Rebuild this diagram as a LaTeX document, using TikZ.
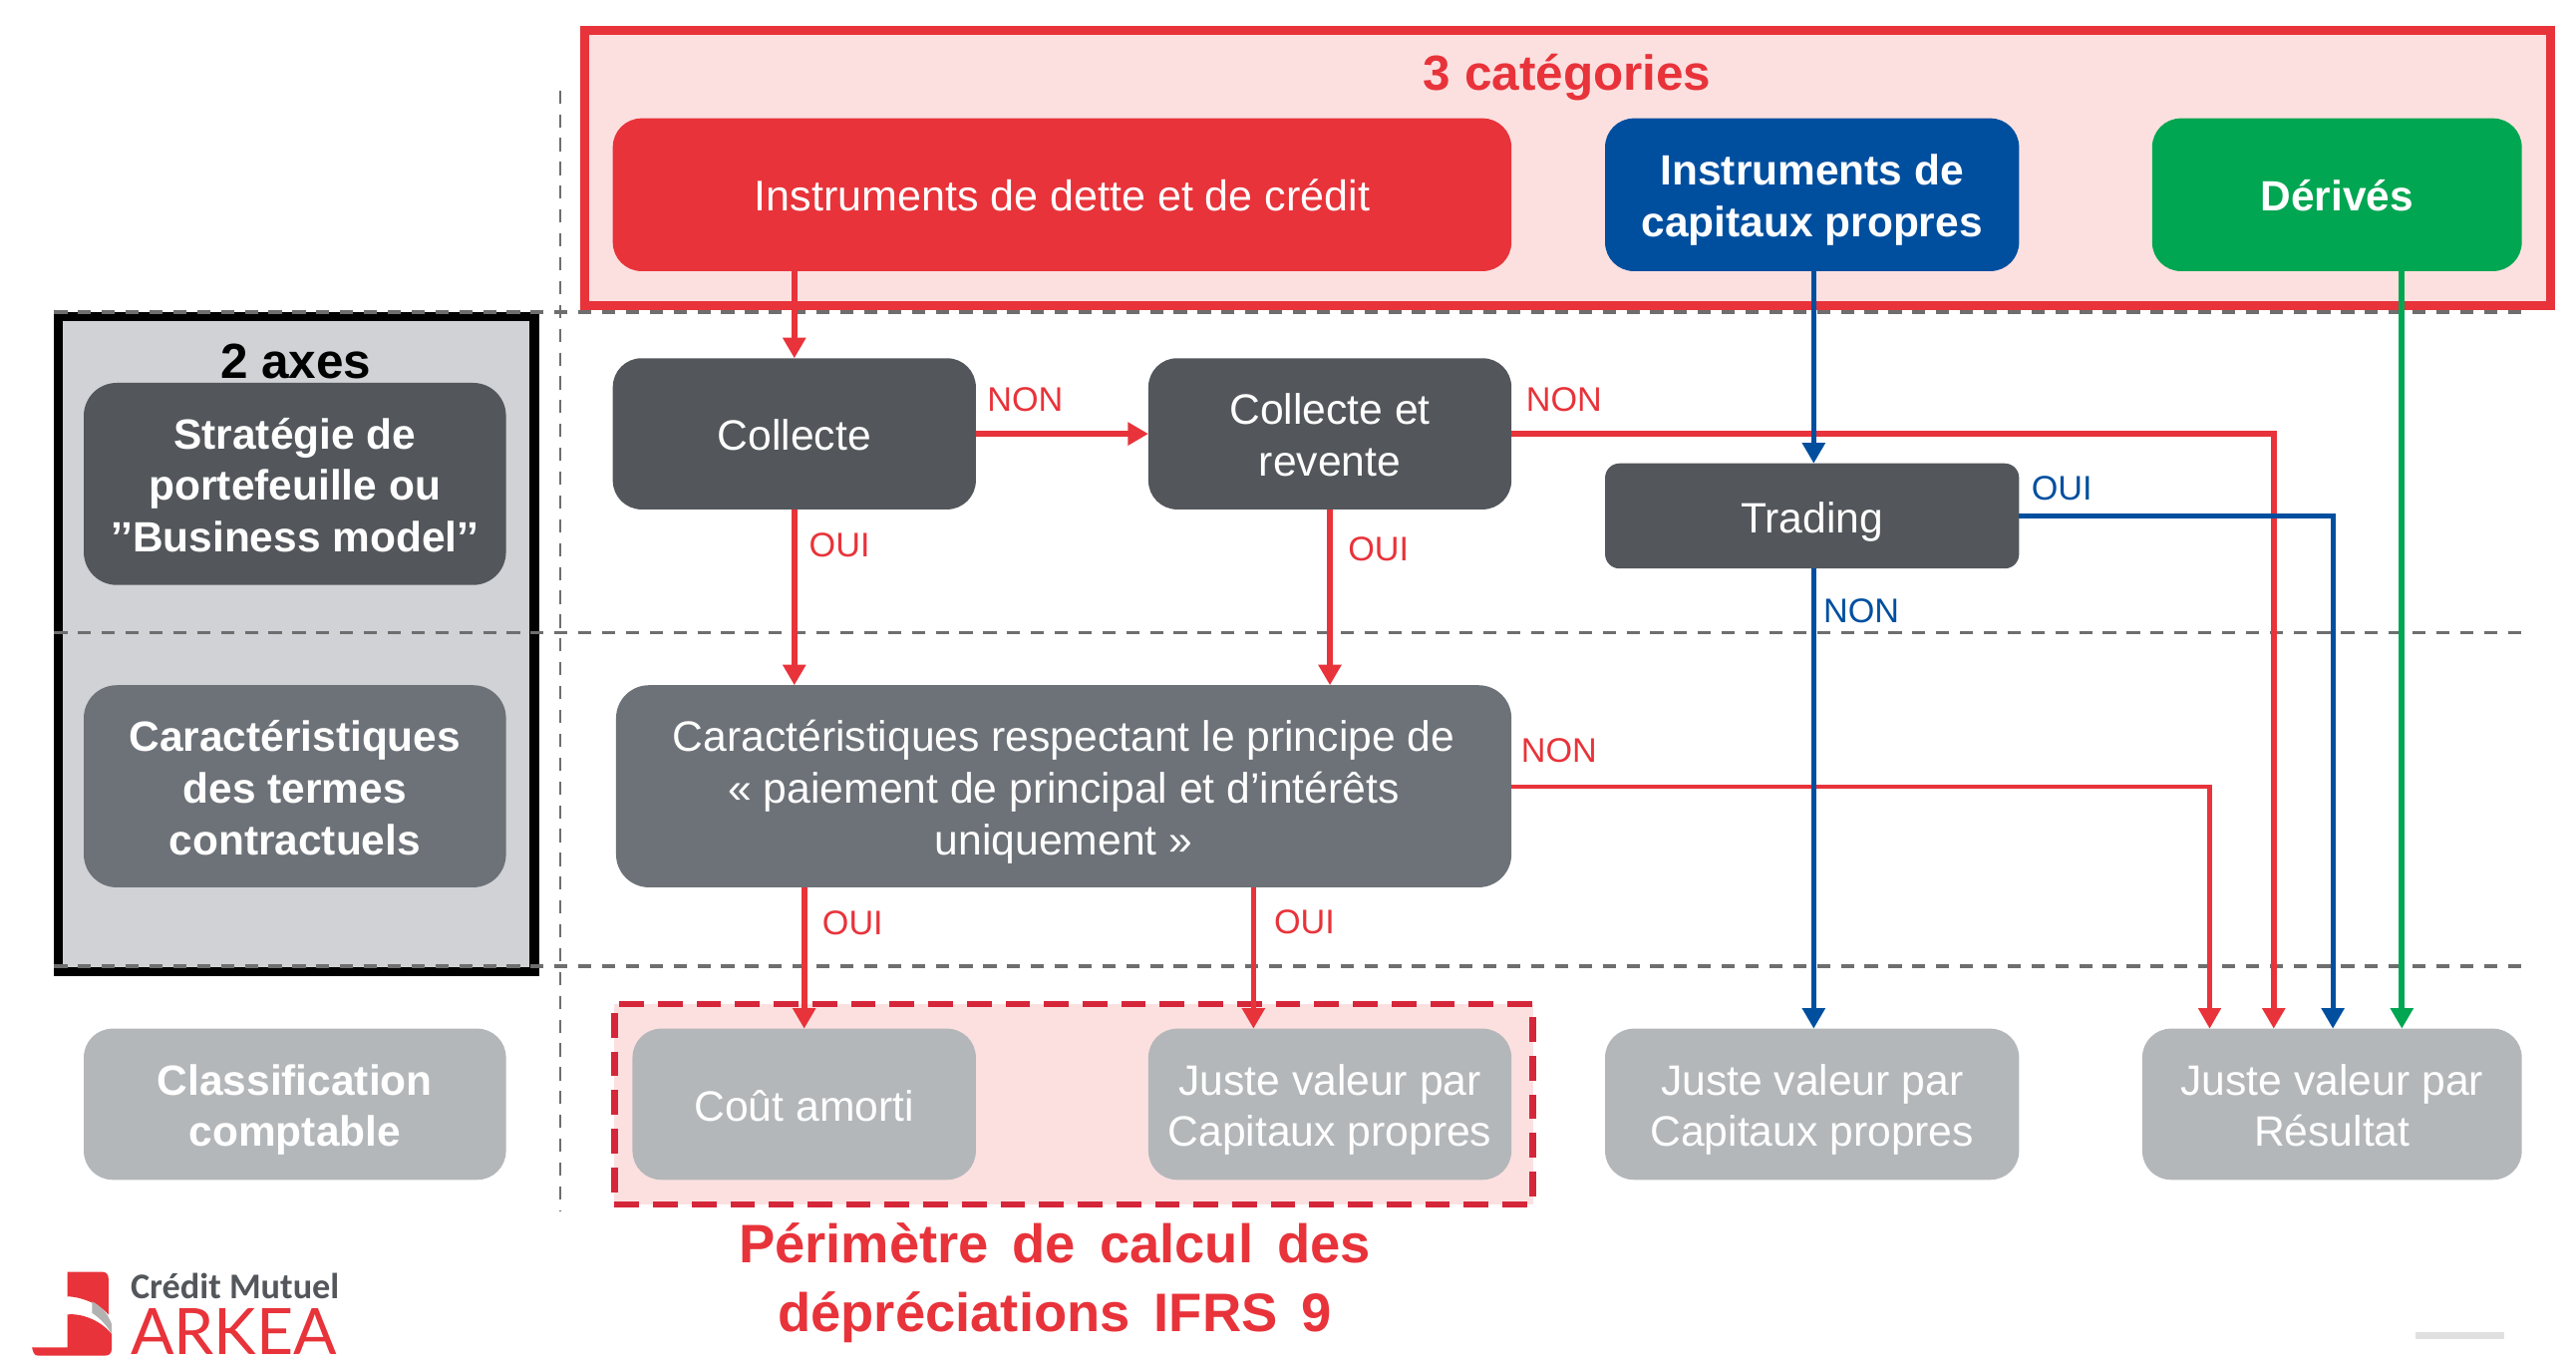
\documentclass[tikz,border=0pt]{standalone}
\usepackage{fontspec}
\setmainfont{Liberation Sans}
\newfontfamily\logofont{Carlito}
\newfontfamily\arkeafont{Lato}
\usetikzlibrary{arrows.meta,calc}
\definecolor{cred}{HTML}{E8333A}
\definecolor{cdred}{HTML}{D5263A}
\definecolor{cblue}{HTML}{004F9F}
\definecolor{cgreen}{HTML}{00A651}
\definecolor{cdark}{HTML}{53575B}
\definecolor{cmid}{HTML}{6D7278}
\definecolor{clight}{HTML}{B4B7BA}
\definecolor{cpanel}{HTML}{D0D2D5}
\definecolor{cpink}{HTML}{FCE0E0}
\definecolor{cdash}{HTML}{6E6E6E}
\newcommand{\tl}[1]{\raisebox{-4pt}[0pt][0pt]{\begin{tabular}{@{}c@{}}#1\end{tabular}}}
\newcommand{\wsp}{\hspace{5.8pt}}
\newcommand{\rbox}[7]{%
  \pgfmathsetmacro\cxx{(#3+#5)/2}\pgfmathsetmacro\cyy{(#4+#6)/2}%
  \pgfmathsetmacro\ww{(#5-#3)*0.4}\pgfmathsetmacro\hh{(#6-#4)*0.4}%
  \node[#1,minimum width=\ww pt,minimum height=\hh pt] (#2) at (\cxx,\cyy) {\tl{#7}};}
\tikzset{
  base/.style={inner sep=0pt,outer sep=0pt,text=white,
    font=\fontsize{10.35}{12.6}\selectfont},
  rbig/.style={base,rounded corners=7pt},
  boldbig/.style={base,rounded corners=7pt,font=\fontsize{10.3}{12.6}\selectfont\bfseries},
  lbl/.style={inner sep=0pt,font=\fontsize{8.3}{10}\selectfont},
  arr/.style={-{Triangle[width=5.4pt,length=5pt]},line width=1.2pt},
  arrthick/.style={arr,line width=1.4pt},
  arrthin/.style={arr,line width=1pt},
  sep/.style={cdash,line width=0.5pt,dash pattern=on 3.2pt off 2.6pt},
  septhick/.style={cdash,line width=0.85pt,dash pattern=on 3.2pt off 2.6pt},
}
\begin{document}
\begin{tikzpicture}[x=0.4pt,y=-0.4pt]
\path[use as bounding box] (0,0) rectangle (1568,829.5);
% panels
\node[base,fill=cpink,draw=cred,line width=2.2pt,minimum width=478.6pt,minimum height=67pt] (top) at (954,102.5) {};
\node[base,fill=cpanel,draw=black,line width=2.2pt,minimum width=115.8pt,minimum height=159.4pt] (axes) at (180.5,392) {};
\node[base,fill=cpink,draw=cdred,line width=1.6pt,dash pattern=on 6pt off 3.4pt,minimum width=223.6pt,minimum height=48.8pt] (perim) at (653.5,672) {};
% separators
\coordinate (sa) at (33,190); \coordinate (sb) at (1538,190);
\coordinate (sc) at (33,385); \coordinate (sd) at (1538,385);
\coordinate (se) at (33,588); \coordinate (sf) at (1538,588);
\coordinate (sg) at (341,55); \coordinate (sh) at (341,737);
\draw[septhick] (sa) -- (sb);
\draw[sep] (sc) -- (sd);
\draw[septhick] (se) -- (sf);
\draw[sep] (sg) -- (sh);
% titles
\node[inner sep=0pt,text=cred,font=\fontsize{12}{14}\selectfont\bfseries] (t3) at (954,47) {3 catégories};
\node[inner sep=0pt,text=black,font=\fontsize{12}{14}\selectfont\bfseries] (t2) at (180,220) {2 axes};
\node[inner sep=0pt,align=center,text=cred,font=\fontsize{13.2}{16.8}\selectfont\bfseries] (tp) at (642,781) {Périmètre\wsp de\wsp calcul\wsp des\\dépréciations\wsp IFRS\wsp 9};
% category boxes
\rbox{base,fill=cred,rounded corners=7pt,font=\fontsize{10.45}{12.6}\selectfont}{dette}{373}{72}{920}{165}{Instruments de dette et de crédit\hspace{3pt}}
\rbox{boldbig,fill=cblue}{capitaux}{977}{72}{1229}{165}{Instruments de\\capitaux propres}
\rbox{boldbig,fill=cgreen}{derives}{1310}{72}{1535}{165}{Dérivés}
% axes
\rbox{boldbig,fill=cdark,rounded corners=8pt}{strat}{51}{233}{308}{356}{Stratégie de\\portefeuille ou\\’’Business model’’}
\rbox{boldbig,fill=cmid,rounded corners=8pt}{carac}{51}{417}{308}{540}{Caractéristiques\\des termes\\contractuels}
\rbox{boldbig,fill=clight}{classif}{51}{626}{308}{718}{Classification\\comptable}
% decisions
\rbox{rbig,fill=cdark}{collecte}{373}{218}{594}{310}{Collecte}
\rbox{rbig,fill=cdark}{revente}{699}{218}{920}{310}{Collecte et\\revente}
\rbox{base,fill=cdark,rounded corners=3.5pt}{trading}{977}{282}{1229}{346}{Trading}
\rbox{base,fill=cmid,rounded corners=8pt}{sppi}{375}{417}{920}{540}{Caractéristiques respectant le principe de\\« paiement de principal et d’intérêts\\uniquement »}
% results
\rbox{rbig,fill=clight}{cout}{385}{626}{594}{718}{Coût amorti}
\rbox{rbig,fill=clight}{jvcp}{699}{626}{920}{718}{Juste valeur par\\Capitaux propres}
\rbox{rbig,fill=clight}{jvcpb}{977}{626}{1229}{718}{Juste valeur par\\Capitaux propres}
\rbox{rbig,fill=clight}{jvr}{1304}{626}{1535}{718}{Juste valeur par\\Résultat}
% entry points on the top of the result boxes
\coordinate (injv) at (763,626);
\coordinate (inra) at (1345,626);
\coordinate (inrb) at (1384,626);
\coordinate (inrc) at (1420,626);
\coordinate (inrd) at (1462,626);
\coordinate (incap) at (1104,626);
% connectors
\draw[arrthick,draw=cred] (collecte.north |- dette.south) -- (collecte.north);
\draw[arrthick,draw=cred] (collecte.east) -- (revente.west);
\draw[arrthick,draw=cred] (collecte.south) -- (collecte.south |- sppi.north);
\draw[arrthick,draw=cred] (revente.south) -- (revente.south |- sppi.north);
\draw[arrthick,draw=cred] (revente.east) -| (inrb);
\draw[arrthin,draw=cred] (sppi.east) -| (inra);
\draw[arrthick,draw=cred] (cout.north |- sppi.south) -- (cout.north);
\draw[arrthick,draw=cred] (injv |- sppi.south) -- (injv);
\draw[arr,draw=cblue] (incap |- capitaux.south) -- (incap |- trading.north);
\draw[arr,draw=cblue] (incap |- trading.south) -- (incap);
\draw[arr,draw=cblue] (trading.east) -| (inrc);
\draw[arrthick,draw=cgreen] (inrd |- derives.south) -- (inrd);
% connector labels
\node[lbl,text=cred] (l1) at (624,243) {NON};
\node[lbl,text=cred] (l2) at (952,243) {NON};
\node[lbl,text=cred] (l3) at (511,332) {OUI};
\node[lbl,text=cred] (l4) at (839,334) {OUI};
\node[lbl,text=cred] (l5) at (949,457) {NON};
\node[lbl,text=cred] (l6) at (519,562) {OUI};
\node[lbl,text=cred] (l7) at (794,561) {OUI};
\node[lbl,text=cblue] (l8) at (1255,297) {OUI};
\node[lbl,text=cblue] (l9) at (1133,372) {NON};
% logo
\fill[cred] (41,774) -- (62,774) .. controls (65,774) and (66,776) .. (66,778) -- (66,800) .. controls (60,793) and (48,789) .. (41,789) -- cycle;
\fill[black!30] (56,792) .. controls (62,795) and (66,800) .. (68,806) -- (68,812) .. controls (66,808) and (62,803) .. (56,799) -- cycle;
\fill[cred] (41,800) .. controls (50,799) and (62,804) .. (68,812) -- (68,821) .. controls (68,824) and (66,825) .. (64,825) -- (23,825) .. controls (21,825) and (20,823) .. (19.5,820) -- (41,820) -- cycle;
\node[anchor=west,inner sep=0pt,text=cdark,font=\fontsize{8.8}{11}\logofont\bfseries] (cm) at (79,783) {Crédit Mutuel};
\node[anchor=south west,inner sep=0pt,text height=11pt,text depth=0pt,text=cred,font=\fontsize{15.6}{17}\arkeafont] (ark) at (79,825) {ARKEA};
\fill[black!12] (1470,810.5) rectangle (1524,815);
\end{tikzpicture}
\end{document}
